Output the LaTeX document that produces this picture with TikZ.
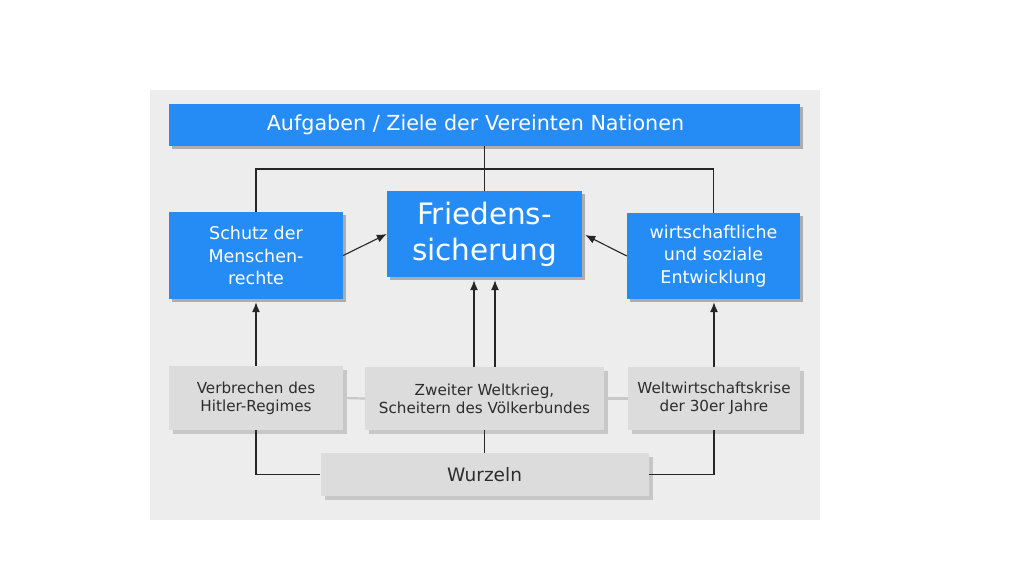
\documentclass[tikz,border=0pt]{standalone}
\usepackage{fontspec}
\setmainfont{DejaVu Sans}
\usetikzlibrary{arrows.meta,shadows,calc}
\definecolor{unblue}{RGB}{38,140,245}
\definecolor{boxgray}{RGB}{220,220,220}
\definecolor{panelbg}{RGB}{237,237,237}
\definecolor{linegray}{RGB}{200,200,200}
\definecolor{txtgray}{RGB}{45,45,45}
\begin{document}
\begin{tikzpicture}[x=1pt,y=-1pt,
  bluebox/.style={rectangle, fill=unblue, text=white, align=center, inner sep=0pt,
    drop shadow={shadow xshift=3pt, shadow yshift=-3pt, fill=black!32, opacity=1}},
  graybox/.style={rectangle, fill=boxgray, text=txtgray, align=center, inner sep=0pt,
    drop shadow={shadow xshift=4pt, shadow yshift=-4pt, fill=black!22, opacity=1}},
  conn/.style={draw=black!85, line width=1.1pt},
  arr/.style={conn, -{Latex[length=10pt,width=8pt]}},
  side/.style={draw=linegray, line width=2.2pt}]
\useasboundingbox (0,0) rectangle (1024,576);
\fill[white] (0,0) rectangle (1024,576);
\fill[panelbg] (150,90) rectangle (820,520);

\node[bluebox, minimum width=631pt, minimum height=42pt,
  font=\fontsize{20.7}{24}\selectfont] (top) at (484.5,125) {Aufgaben / Ziele der Vereinten Nationen\hspace*{18pt}};
\node[bluebox, minimum width=174pt, minimum height=87pt,
  font=\fontsize{17.5}{22.5}\selectfont] (schutz) at (256,255.5) {Schutz der\\Menschen-\\rechte};
\node[bluebox, minimum width=195pt, minimum height=86pt,
  font=\fontsize{29.5}{36}\selectfont] (fried) at (484.5,234) {Friedens-\\sicherung};
\node[bluebox, minimum width=173pt, minimum height=86pt,
  font=\fontsize{17.5}{22.5}\selectfont] (wirt) at (713.5,256) {wirtschaftliche\\und soziale\\Entwicklung};

\node[graybox, minimum width=174pt, minimum height=64pt,
  font=\fontsize{15.2}{18}\selectfont] (verb) at (256,398) {Verbrechen des\\Hitler-Regimes};
\node[graybox, minimum width=239pt, minimum height=63pt,
  font=\fontsize{15.2}{18}\selectfont] (zweit) at (484.5,398.5) {Zweiter Weltkrieg,\\Scheitern des Völkerbundes};
\node[graybox, minimum width=172pt, minimum height=63pt,
  font=\fontsize{15.2}{18}\selectfont] (welt) at (714,398.5) {Weltwirtschaftskrise\\der 30er Jahre};
\node[graybox, minimum width=328pt, minimum height=43pt,
  font=\fontsize{18.5}{22}\selectfont] (wurz) at (484.5,474.5) {Wurzeln};

\coordinate (hub) at (484.5,169);

% connectors
\draw[conn] (top.south) -- (fried.north);
\draw[conn] (schutz.north) |- (hub) -| (wirt.north);
\draw[arr] (schutz.east) -- (fried.west);
\draw[arr] (wirt.west) -- ($(fried.east)+(3,1)$);
\draw[arr] (verb.north) -- ([yshift=-3pt]schutz.south);
\draw[arr] ([xshift=-10.5pt]zweit.north) -- ([xshift=-10.5pt,yshift=-3pt]fried.south);
\draw[arr] ([xshift=10.5pt]zweit.north) -- ([xshift=10.5pt,yshift=-3pt]fried.south);
\draw[arr] (welt.north) -- ([yshift=-3pt]welt.north |- wirt.south);
\draw[side] (verb.east) -- (zweit.west);
\draw[side] (zweit.east) -- (welt.west);
\draw[conn] (verb.south) |- (wurz.west);
\draw[conn] (zweit.south) -- (wurz.north);
\draw[conn] (welt.south) |- (wurz.east);
\end{tikzpicture}
\end{document}
